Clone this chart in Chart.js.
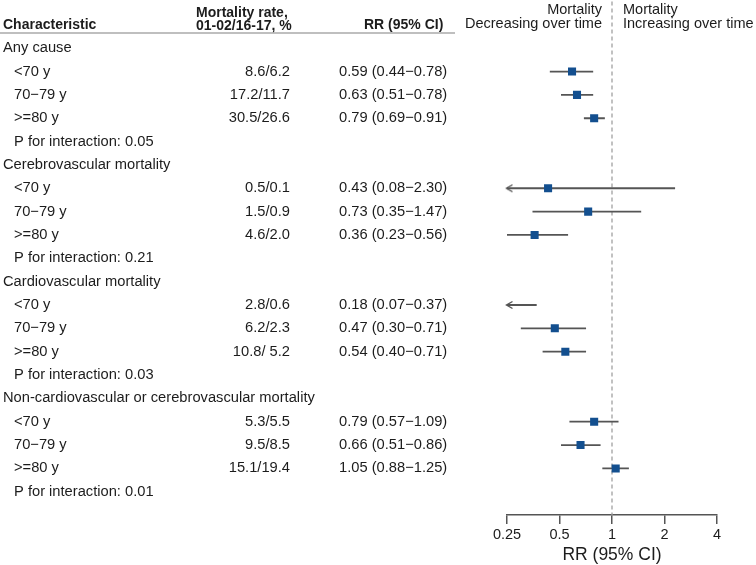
<!DOCTYPE html>
<html>
<head>
<meta charset="utf-8">
<script src="https://cdn.jsdelivr.net/npm/chart.js@4"></script>
<style>
  body { margin: 0; background: #fff; }
  #wrap { width: 756px; height: 565px; position: relative; }
</style>
</head>
<body>
<div id="wrap"><canvas id="chart"></canvas></div>
<script>
// data
const groups = ['Any cause', 'Cerebrovascular mortality', 'Cardiovascular mortality',
  'Non-cardiovascular or cerebrovascular mortality'];
const ageBands = ['<70 y', '70\u221279 y', '>=80 y'];
const mortalityRates = ['8.6/6.2', '17.2/11.7', '30.5/26.6',
  '0.5/0.1', '1.5/0.9', '4.6/2.0',
  '2.8/0.6', '6.2/2.3', '10.8/ 5.2',
  '5.3/5.5', '9.5/8.5', '15.1/19.4'];
const rrEstimate = [0.59, 0.63, 0.79, 0.43, 0.73, 0.36, 0.18, 0.47, 0.54, 0.79, 0.66, 1.05];
const ciLower = [0.44, 0.51, 0.69, 0.08, 0.35, 0.23, 0.07, 0.30, 0.40, 0.57, 0.51, 0.88];
const ciUpper = [0.78, 0.78, 0.91, 2.30, 1.47, 0.56, 0.37, 0.71, 0.71, 1.09, 0.86, 1.25];
const pInteraction = ['0.05', '0.21', '0.03', '0.01'];
const arrowLeft = [false, false, false, true, false, false, true, false, false, false, false, false];
const tickValues = [0.25, 0.5, 1, 2, 4];

const FONT = '"Liberation Sans", Arial, sans-serif';
const TEXT = '#1c1c1c';
const AXIS_MIN = 0.25;

// row index of each estimate: group header, 3 age rows, p row
const rowOf = i => Math.floor(i / 3) * 5 + 1 + (i % 3);

const ciData = [];
rrEstimate.forEach((v, i) => {
  ciData.push({ x: ciLower[i], y: rowOf(i) });
  ciData.push({ x: ciUpper[i], y: rowOf(i) });
  ciData.push({ x: null, y: null });
});
const pointData = rrEstimate.map((v, i) => ({ x: v, y: rowOf(i) }));
const arrowData = rrEstimate
  .map((v, i) => arrowLeft[i] ? { x: AXIS_MIN, y: rowOf(i) } : null)
  .filter(d => d);

// open arrowhead used as a point style
const arrowImg = document.createElement('canvas');
arrowImg.width = 16;
arrowImg.height = 10;
const actx = arrowImg.getContext('2d');
actx.strokeStyle = '#555';
actx.lineWidth = 1.4;
actx.beginPath();
actx.moveTo(13.5, 1.5);
actx.lineTo(7.5, 5);
actx.lineTo(13.5, 8.5);
actx.stroke();

const tablePlugin = {
  id: 'forestTable',
  afterDraw(chart) {
    const { ctx } = chart;
    const ys = chart.scales.y;
    const xs = chart.scales.x;
    const ref = xs.getPixelForValue(1);
    ctx.save();
    ctx.fillStyle = TEXT;
    ctx.textBaseline = 'middle';

    // headers
    ctx.font = 'bold 14px ' + FONT;
    ctx.textAlign = 'left';
    ctx.fillText('Characteristic', 3, ys.getPixelForValue(-1));
    ctx.fillText('Mortality rate,', 196, ys.getPixelForValue(-1.5));
    ctx.fillText('01-02/16-17, %', 196, ys.getPixelForValue(-0.95));
    ctx.fillText('RR (95% CI)', 364, ys.getPixelForValue(-1));

    ctx.strokeStyle = '#aaa';
    ctx.lineWidth = 1.5;
    ctx.beginPath();
    ctx.moveTo(0, 33);
    ctx.lineTo(455, 33);
    ctx.stroke();

    ctx.font = '14.5px ' + FONT;
    ctx.textAlign = 'right';
    ctx.fillText('Mortality', ref - 10, ys.getPixelForValue(-1.65));
    ctx.fillText('Decreasing over time', ref - 10, ys.getPixelForValue(-1.03));
    ctx.textAlign = 'left';
    ctx.fillText('Mortality', ref + 11, ys.getPixelForValue(-1.65));
    ctx.fillText('Increasing over time', ref + 11, ys.getPixelForValue(-1.03));

    // table body
    ctx.font = '14.7px ' + FONT;
    groups.forEach((g, gi) => {
      ctx.textAlign = 'left';
      ctx.fillText(g, 3, ys.getPixelForValue(gi * 5));
      ctx.fillText('P for interaction: ' + pInteraction[gi], 14, ys.getPixelForValue(gi * 5 + 4));
    });
    rrEstimate.forEach((v, i) => {
      const py = ys.getPixelForValue(rowOf(i));
      ctx.textAlign = 'left';
      ctx.fillText(ageBands[i % 3], 14, py);
      ctx.fillText(v.toFixed(2) + ' (' + ciLower[i].toFixed(2) + '\u2212' + ciUpper[i].toFixed(2) + ')', 339, py);
      ctx.textAlign = 'right';
      ctx.fillText(mortalityRates[i], 290, py);
    });
    ctx.restore();
  }
};

new Chart(document.getElementById('chart'), {
  type: 'scatter',
  data: {
    datasets: [
      {
        data: pointData,
        pointStyle: 'rect',
        pointRadius: 5.7,
        backgroundColor: '#134f8f',
        borderWidth: 0,
        order: 0
      },
      {
        data: arrowData,
        pointStyle: arrowImg,
        clip: false,
        order: 1
      },
      {
        data: ciData,
        showLine: true,
        spanGaps: false,
        pointRadius: 0,
        borderColor: '#555',
        borderWidth: 1.8,
        order: 2
      },
      {
        data: [{ x: 1, y: -2 }, { x: 1, y: 20 }],
        showLine: true,
        clip: false,
        pointRadius: 0,
        borderColor: '#a0a0a0',
        borderWidth: 1.3,
        borderDash: [4, 3],
        order: 3
      }
    ]
  },
  options: {
    responsive: true,
    maintainAspectRatio: false,
    animation: false,
    layout: { padding: { left: 507, right: 39, top: 0, bottom: 1 } },
    plugins: {
      legend: { display: false },
      tooltip: { enabled: false }
    },
    scales: {
      x: {
        type: 'logarithmic',
        min: 0.25,
        max: 4,
        afterBuildTicks: scale => {
          scale.ticks = tickValues.map(v => ({ value: v }));
        },
        afterFit: scale => {
          scale.paddingLeft = 0;
          scale.paddingRight = 0;
        },
        grid: {
          drawOnChartArea: false,
          drawTicks: true,
          tickLength: 9,
          color: '#555',
          lineWidth: 1.5
        },
        border: { display: true, color: '#555', width: 1.5 },
        ticks: {
          color: TEXT,
          padding: 2,
          autoSkip: false,
          maxRotation: 0,
          font: { family: FONT, size: 14.5 },
          callback: v => String(v)
        },
        title: {
          display: true,
          text: 'RR (95% CI)',
          color: TEXT,
          font: { family: FONT, size: 17.5, lineHeight: 1 },
          padding: { top: 1, bottom: 0 }
        }
      },
      y: {
        type: 'linear',
        min: -1.82,
        max: 20,
        reverse: true,
        display: false
      }
    }
  },
  plugins: [tablePlugin]
});
</script>
</body>
</html>
